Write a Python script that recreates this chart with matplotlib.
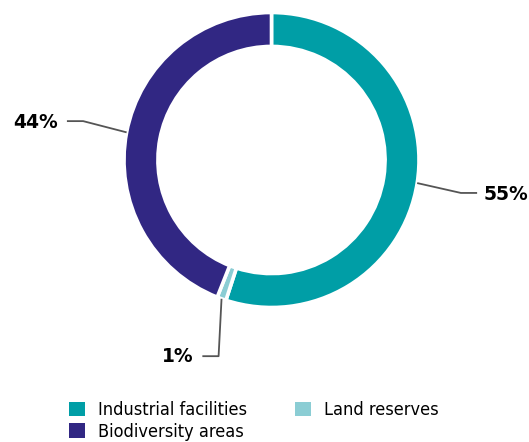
import numpy as np
import matplotlib
matplotlib.use("Agg")
import matplotlib.pyplot as plt
from matplotlib.patches import Patch

categories = ["Industrial facilities", "Land reserves", "Biodiversity areas"]
shares = [55, 1, 44]
labels = ["55%", "1%", "44%"]
colors = ["#009EA6", "#8BCDD4", "#312783"]

W, H, DPI = 529, 442, 100
fig = plt.figure(figsize=(W / DPI, H / DPI), dpi=DPI)
ax = fig.add_axes([0, 0, 1, 1])

wedges, _ = ax.pie(shares, colors=colors, startangle=90, counterclock=False,
                   radius=1.0,
                   wedgeprops=dict(width=0.23, edgecolor="white", linewidth=2.6))

# pie geometry in pixel terms: centre and outer radius
cx, cy, R = 271.5, 160, 147.5
ax.set_aspect("auto")
ax.set_xlim(-cx / R, (W - cx) / R)
ax.set_ylim(-(H - cy) / R, cy / R)
ax.axis("off")

line_kw = dict(color="#555555", lw=1.3, solid_capstyle="butt")
pct_font = dict(fontsize=13.5, fontweight="bold", family="DejaVu Sans", color="black")

for w, lab, share in zip(wedges, labels, shares):
    mid = np.deg2rad((w.theta1 + w.theta2) / 2)
    x0, y0 = np.cos(mid) * 1.0, np.sin(mid) * 1.0
    if share >= 10:
        x1, y1 = np.cos(mid) * 1.3, np.sin(mid) * 1.3
        side = np.sign(x1)
        y1 = y1 - side * 0.02
        x2 = x1 + side * 0.11
        gap = 0.045 if side > 0 else 0.06
        ax.plot([x0, x1, x2], [y0, y1, y1], **line_kw)
        ax.text(x2 + side * gap, y1 - 0.01, lab, ha="left" if side > 0 else "right",
                va="center", **pct_font)
    else:
        y1 = -1.33
        x1 = x0 - 0.02
        x2 = x1 - 0.11
        ax.plot([x0, x1, x2], [y0, y1, y1], **line_kw)
        ax.text(x2 - 0.06, y1, lab, ha="right", va="center", **pct_font)

# legend fills column-wise: put Land reserves alone in the second column
order = [0, 2, 1]
handles = [Patch(facecolor=colors[i], edgecolor="none") for i in order]
leg = fig.legend(handles, [categories[i] for i in order], ncol=2, loc="upper left",
                 bbox_to_anchor=(62 / W, 1 - 394 / H), frameon=False,
                 handlelength=0.9, handleheight=0.9, handletextpad=0.7,
                 columnspacing=2.65, labelspacing=0.2, borderaxespad=0,
                 prop=dict(family=["DejaVu Sans"], stretch="condensed", size=13))

fig.savefig("out.png", dpi=DPI)
